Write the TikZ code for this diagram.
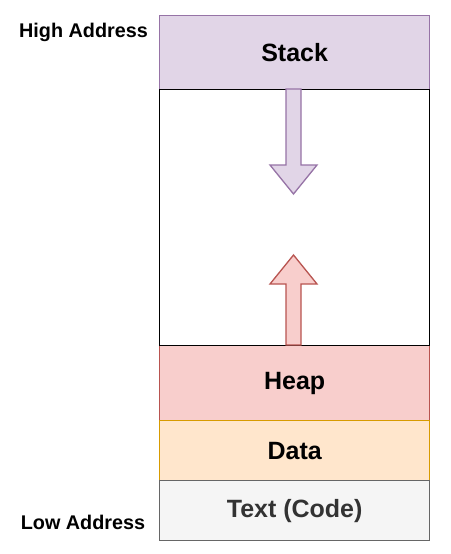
\documentclass[tikz,border=0pt]{standalone}
\usepackage{fontspec}
\setmainfont{Liberation Sans}
\begin{document}
\begin{tikzpicture}[x=1pt,y=-1pt,
  seg/.style={draw, line width=1.3pt, minimum width=270pt, inner sep=0pt, font=\fontsize{25}{28}\selectfont\bfseries, anchor=north west},
  side/.style={font=\fontsize{19.8}{23}\selectfont\bfseries, inner sep=0pt},
  arr/.style={line width=1.3pt, line join=miter}]
\definecolor{stackF}{HTML}{E1D5E7}\definecolor{stackD}{HTML}{9673A6}
\definecolor{heapF}{HTML}{F8CECC}\definecolor{heapD}{HTML}{B85450}
\definecolor{dataF}{HTML}{FFE6CC}\definecolor{dataD}{HTML}{D79B00}
\definecolor{textF}{HTML}{F5F5F5}\definecolor{textD}{HTML}{666666}
\definecolor{textT}{HTML}{333333}
\useasboundingbox (0,0) rectangle (450,554);
\node[seg, fill=stackF, draw=stackD, minimum height=74pt] (stack) at (159,15) {Stack};
\node[seg, fill=heapF, draw=heapD, minimum height=75pt] (heap) at (159,345) {Heap};
\node[seg, fill=dataF, draw=dataD, minimum height=60pt] (data) at (159,420) {Data};
\node[seg, fill=textF, draw=textD, minimum height=60pt, text=textT] (code) at (159,480) {Text (Code)};
\node[seg, fill=white, draw=black, minimum height=256pt] (free) at (159,89) {};
\draw[arr, fill=stackF, draw=stackD] (286,89) -- (301,89) -- (301,165) -- (317,165) -- (293.5,194) -- (270,165) -- (286,165) -- cycle;
\draw[arr, fill=heapF, draw=heapD] (286,345) -- (301,345) -- (301,284) -- (317,284) -- (293.5,255) -- (270,284) -- (286,284) -- cycle;
\node[side] (high) at (83.5,32) {High Address};
\node[side] (low) at (83,522) {Low Address};
\end{tikzpicture}
\end{document}
